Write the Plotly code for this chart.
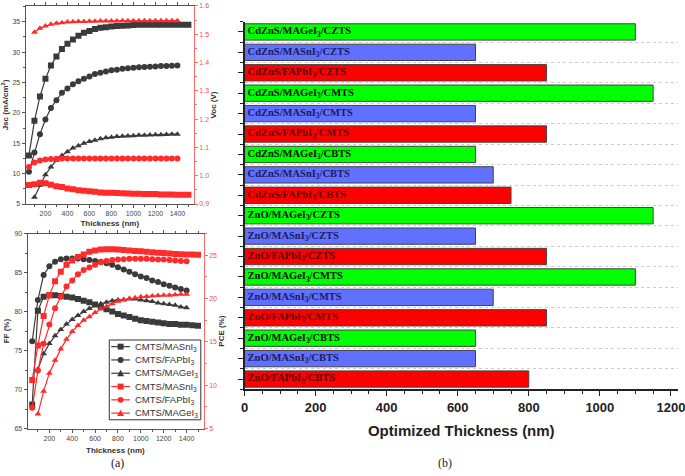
import plotly.graph_objects as go

# ---------------- Panel (a) data ----------------
thk_sq = [50, 100, 150, 200, 250, 300, 350, 400, 450, 500, 550, 600, 650, 700, 750,
          800, 850, 900, 950, 1000, 1050, 1100, 1150, 1200, 1250, 1300, 1350, 1400, 1450, 1500]
thk_ci = [50, 100, 150, 200, 250, 300, 350, 400, 450, 500, 550, 600, 650, 700, 750,
          800, 850, 900, 950, 1000, 1050, 1100, 1150, 1200, 1250, 1300, 1350, 1400]
thk_tr = [100, 150, 200, 250, 300, 350, 400, 450, 500, 550, 600, 650, 700, 750,
          800, 850, 900, 950, 1000, 1050, 1100, 1150, 1200, 1250, 1300, 1350, 1400]

jsc_masni3 = [13.0, 18.7, 22.7, 25.6, 27.8, 29.3, 30.5, 31.4, 32.1, 32.7, 33.2, 33.5, 33.8, 34.0, 34.1,
              34.2, 34.3, 34.35, 34.4, 34.45, 34.5, 34.5, 34.5, 34.5, 34.5, 34.5, 34.5, 34.5, 34.5, 34.5]
jsc_fapbi3 = [10.3, 13.5, 16.5, 18.9, 20.8, 22.1, 23.3, 24.0, 24.7, 25.2, 25.6, 26.0, 26.4, 26.6,
              26.8, 27.0, 27.1, 27.25, 27.35, 27.45, 27.5, 27.55, 27.6, 27.65, 27.7, 27.7, 27.75, 27.8]
jsc_magei3 = [6.1, 8.1, 9.8, 11.1, 12.2, 13.0, 13.6, 14.2, 14.6, 15.0, 15.3, 15.5, 15.75, 15.9,
              16.0, 16.1, 16.15, 16.2, 16.25, 16.3, 16.3, 16.35, 16.4, 16.4, 16.45, 16.5, 16.5]

voc_masni3 = [0.967, 0.970, 0.975, 0.973, 0.968, 0.963, 0.960, 0.955, 0.952, 0.949, 0.947, 0.945,
              0.943, 0.941, 0.940, 0.940, 0.939, 0.938, 0.937, 0.936, 0.936, 0.935, 0.935, 0.935,
              0.934, 0.934, 0.934, 0.933, 0.933, 0.933]
voc_fapbi3 = [1.031, 1.047, 1.054, 1.057, 1.059, 1.060, 1.061, 1.061, 1.061, 1.061, 1.061, 1.061,
              1.061, 1.061, 1.061, 1.061, 1.061, 1.061, 1.061, 1.061, 1.061, 1.061, 1.061, 1.061,
              1.061, 1.061, 1.061, 1.061]
voc_magei3 = [1.507, 1.521, 1.529, 1.535, 1.539, 1.541, 1.543, 1.544, 1.545, 1.545, 1.546, 1.546,
              1.547, 1.547, 1.547, 1.547, 1.548, 1.548, 1.548, 1.548, 1.548, 1.548, 1.548, 1.548,
              1.548, 1.548, 1.548]

ff_masni3 = [68.1, 80.1, 81.9, 82.1, 82.1, 82.0, 81.9, 81.8, 81.6, 81.4, 81.2, 80.9, 80.6, 80.3, 80.0,
             79.7, 79.5, 79.3, 79.1, 78.9, 78.8, 78.7, 78.6, 78.5, 78.4, 78.4, 78.3, 78.3, 78.25, 78.2]
ff_fapbi3 = [76.2, 81.5, 84.7, 85.8, 86.4, 86.7, 86.8, 86.8, 86.8, 86.7, 86.6, 86.5, 86.4, 86.2,
             86.0, 85.7, 85.4, 85.1, 84.8, 84.5, 84.3, 84.0, 83.8, 83.5, 83.3, 83.1, 82.9, 82.7]
ff_magei3 = [72.6, 74.6, 75.9, 76.9, 77.7, 78.4, 79.0, 79.5, 80.0, 80.4, 80.8, 81.0, 81.2, 81.4,
             81.5, 81.5, 81.6, 81.6, 81.5, 81.4, 81.3, 81.1, 81.0, 80.9, 80.8, 80.6, 80.5]

pce_masni3 = [10.6, 14.6, 18.0, 20.4, 22.0, 23.1, 23.9, 24.4, 24.8, 25.1, 25.4, 25.55, 25.65, 25.7,
              25.7, 25.65, 25.6, 25.55, 25.5, 25.45, 25.4, 25.35, 25.3, 25.25, 25.2, 25.15, 25.12,
              25.1, 25.08, 25.07]
pce_fapbi3 = [7.4, 11.7, 14.8, 17.0, 18.9, 20.2, 21.4, 22.1, 22.8, 23.3, 23.6, 23.9, 24.2, 24.35,
              24.45, 24.5, 24.55, 24.6, 24.6, 24.6, 24.6, 24.55, 24.5, 24.5, 24.45, 24.4, 24.35, 24.3]
pce_magei3 = [6.7, 9.3, 11.4, 12.9, 14.2, 15.3, 16.2, 16.9, 17.5, 17.9, 18.4, 18.8, 19.1, 19.4,
              19.7, 19.9, 20.0, 20.1, 20.2, 20.25, 20.3, 20.35, 20.4, 20.4, 20.45, 20.5, 20.5]

legend_names = ["CMTS/MASnI<sub>3</sub>", "CMTS/FAPbI<sub>3</sub>", "CMTS/MAGeI<sub>3</sub>"]

# ---------------- Panel (b) data ----------------
devices = [
    "CdZnS/MAGeI<sub>3</sub>/CZTS", "CdZnS/MASnI<sub>3</sub>/CZTS", "CdZnS/FAPbI<sub>3</sub>/CZTS",
    "CdZnS/MAGeI<sub>3</sub>/CMTS", "CdZnS/MASnI<sub>3</sub>/CMTS", "CdZnS/FAPbI<sub>3</sub>/CMTS",
    "CdZnS/MAGeI<sub>3</sub>/CBTS", "CdZnS/MASnI<sub>3</sub>/CBTS", "CdZnS/FAPbI<sub>3</sub>/CBTS",
    "ZnO/MAGeI<sub>3</sub>/CZTS", "ZnO/MASnI<sub>3</sub>/CZTS", "ZnO/FAPbI<sub>3</sub>/CZTS",
    "ZnO/MAGeI<sub>3</sub>/CMTS", "ZnO/MASnI<sub>3</sub>/CMTS", "ZnO/FAPbI<sub>3</sub>/CMTS",
    "ZnO/MAGeI<sub>3</sub>/CBTS", "ZnO/MASnI<sub>3</sub>/CBTS", "ZnO/FAPbI<sub>3</sub>/CBTS",
]
opt_thickness = [1100, 650, 850, 1150, 650, 850, 650, 700, 750,
                 1150, 650, 850, 1100, 700, 850, 650, 650, 800]
absorber = ["MAGeI3", "MASnI3", "FAPbI3"] * 6

fill_col = {"MAGeI3": "#00ff00", "MASnI3": "#6070ff", "FAPbI3": "#ff0000"}
text_col = {"MAGeI3": "#0a0a0a", "MASnI3": "#1c1c58", "FAPbI3": "#5a0000"}

BLK = "#3a3a3a"
RED = "#ff2a2a"
SYM = ["square", "circle", "triangle-up"]
MS = 6

fig = go.Figure()

# top panel: Jsc (left) and Voc (right)
for xs, ys, s in [(thk_sq, jsc_masni3, SYM[0]), (thk_ci, jsc_fapbi3, SYM[1]), (thk_tr, jsc_magei3, SYM[2])]:
    fig.add_trace(go.Scatter(x=xs, y=ys, mode="lines+markers", xaxis="x", yaxis="y",
                             line=dict(color=BLK, width=1.2), marker=dict(symbol=s, size=MS, color=BLK),
                             showlegend=False))
for xs, ys, s in [(thk_sq, voc_masni3, SYM[0]), (thk_ci, voc_fapbi3, SYM[1]), (thk_tr, voc_magei3, SYM[2])]:
    fig.add_trace(go.Scatter(x=xs, y=ys, mode="lines+markers", xaxis="x", yaxis="y2",
                             line=dict(color=RED, width=1.2), marker=dict(symbol=s, size=MS, color=RED),
                             showlegend=False))

# bottom panel: FF (left) and PCE (right)
for xs, ys, s, nm in [(thk_sq, ff_masni3, SYM[0], legend_names[0]), (thk_ci, ff_fapbi3, SYM[1], legend_names[1]),
                      (thk_tr, ff_magei3, SYM[2], legend_names[2])]:
    fig.add_trace(go.Scatter(x=xs, y=ys, mode="lines+markers", xaxis="x2", yaxis="y3", name=nm,
                             line=dict(color=BLK, width=1.2), marker=dict(symbol=s, size=MS, color=BLK),
                             showlegend=False))
for xs, ys, s, nm in [(thk_sq, pce_masni3, SYM[0], legend_names[0]), (thk_ci, pce_fapbi3, SYM[1], legend_names[1]),
                      (thk_tr, pce_magei3, SYM[2], legend_names[2])]:
    fig.add_trace(go.Scatter(x=xs, y=ys, mode="lines+markers", xaxis="x2", yaxis="y4", name=nm,
                             line=dict(color=RED, width=1.2), marker=dict(symbol=s, size=MS, color=RED),
                             showlegend=False))

# panel (b): bars
fig.add_trace(go.Bar(
    x=opt_thickness, y=list(range(len(devices))), orientation="h",
    xaxis="x3", yaxis="y5", width=0.8,
    marker=dict(color=[fill_col[a] for a in absorber], line=dict(color="#444444", width=1)),
    text=devices, textposition="inside", insidetextanchor="start", textangle=0,
    constraintext="none",
    textfont=dict(family="Liberation Serif", size=10.5, weight="bold",
                  color=[text_col[a] for a in absorber]),
    showlegend=False,
))

W, H = 685, 476
def px(a, b):
    return [a / W, b / W]
def py(top, bot):
    return [1 - bot / H, 1 - top / H]
def PX(v):
    return v / W
def PY(v):
    return 1 - v / H

small_ax = dict(showline=True, linecolor="#555", linewidth=1, ticks="outside", ticklen=3,
                tickcolor="#555", tickfont=dict(family="Liberation Sans", size=7, color="#444"),
                showgrid=False, zeroline=False)
title_font = dict(family="Liberation Sans", size=8, color="#333")
red_ax = dict(showline=True, linecolor="#ff6a6a", linewidth=1, ticks="outside", ticklen=3,
              tickcolor="#ff6a6a", tickfont=dict(family="Liberation Sans", size=7, color="#ff4a4a"),
              showgrid=False, zeroline=False)

# ---- hand-drawn compact legend box for the FF/PCE panel ----
shapes = []
annotations = []
lx0, lx1, ly0, ly1 = 107, 200, 341, 422
shapes.append(dict(type="rect", xref="paper", yref="paper", x0=PX(lx0), x1=PX(lx1), y0=PY(ly1), y1=PY(ly0),
                   line=dict(color="#333", width=1), fillcolor="white", layer="above"))
legend_entries = [(legend_names[i], BLK, SYM[i]) for i in range(3)] + \
                 [(legend_names[i], RED, SYM[i]) for i in range(3)]
row_h = (ly1 - ly0) / len(legend_entries)
for k, (nm, col, sym) in enumerate(legend_entries):
    cy = ly0 + row_h * (k + 0.5)
    shapes.append(dict(type="line", xref="paper", yref="paper", x0=PX(109), x1=PX(128),
                       y0=PY(cy), y1=PY(cy), line=dict(color=col, width=1.2), layer="above"))
    cx, r = 118.5, 3
    if sym == "square":
        shapes.append(dict(type="rect", xref="paper", yref="paper", x0=PX(cx - r), x1=PX(cx + r),
                           y0=PY(cy + r), y1=PY(cy - r), fillcolor=col, line=dict(width=0), layer="above"))
    elif sym == "circle":
        shapes.append(dict(type="circle", xref="paper", yref="paper", x0=PX(cx - r), x1=PX(cx + r),
                           y0=PY(cy + r), y1=PY(cy - r), fillcolor=col, line=dict(width=0), layer="above"))
    else:
        path = "M %f,%f L %f,%f L %f,%f Z" % (PX(cx - r - 0.5), PY(cy + r), PX(cx + r + 0.5), PY(cy + r),
                                              PX(cx), PY(cy - r - 0.5))
        shapes.append(dict(type="path", xref="paper", yref="paper", path=path, fillcolor=col,
                           line=dict(width=0), layer="above"))
    annotations.append(dict(text=nm, x=PX(131), y=PY(cy), xref="paper", yref="paper", showarrow=False,
                            xanchor="left", yanchor="middle",
                            font=dict(family="Liberation Sans", size=9.5, color="#333")))

annotations += [
    dict(text="<b>Thickness (nm)</b>", x=PX((24 + 203) / 2), y=PY(453), xref="paper", yref="paper",
         showarrow=False, xanchor="center", yanchor="middle", font=title_font),
    dict(text="(a)", x=PX(115), y=PY(466), xref="paper", yref="paper", showarrow=False,
         xanchor="center", yanchor="middle",
         font=dict(family="Liberation Serif", size=12, color="#222")),
    dict(text="(b)", x=PX(448), y=PY(466), xref="paper", yref="paper", showarrow=False,
         xanchor="center", yanchor="middle",
         font=dict(family="Liberation Serif", size=12, color="#222")),
]

fig.update_layout(
    width=W, height=H, margin=dict(l=0, r=0, t=0, b=0),
    plot_bgcolor="white", paper_bgcolor="white", showlegend=False,
    xaxis=dict(domain=px(22, 193), anchor="y", range=[20, 1550], tick0=0, dtick=200,
               minor=dict(dtick=100, ticks="outside", ticklen=2, tickcolor="#555"),
               mirror="ticks", title=dict(text="<b>Thickness (nm)</b>", font=title_font, standoff=3),
               **small_ax),
    yaxis=dict(domain=py(2, 203), anchor="x", range=[5, 37.6], dtick=5,
               minor=dict(dtick=2.5, ticks="outside", ticklen=2, tickcolor="#555"),
               title=dict(text="<b>Jsc (mA/cm<sup>2</sup>)</b>", font=title_font, standoff=3),
               **small_ax),
    yaxis2=dict(overlaying="y", side="right", anchor="x", range=[0.9, 1.6], dtick=0.1,
                tickformat=".1f",
                minor=dict(dtick=0.05, ticks="outside", ticklen=2, tickcolor="#ff6a6a"),
                title=dict(text="<b>Voc (V)</b>", font=title_font, standoff=1), **red_ax),
    xaxis2=dict(domain=px(24, 203), anchor="y3", range=[10, 1550], tick0=0, dtick=200,
                minor=dict(dtick=100, ticks="outside", ticklen=2, tickcolor="#555"),
                mirror="ticks", **small_ax),
    yaxis3=dict(domain=py(233, 431), anchor="x2", range=[65, 90], dtick=5,
                minor=dict(dtick=2.5, ticks="outside", ticklen=2, tickcolor="#555"),
                title=dict(text="<b>FF (%)</b>", font=title_font, standoff=3), **small_ax),
    yaxis4=dict(overlaying="y3", side="right", anchor="x2", range=[5, 27.5], dtick=5,
                minor=dict(dtick=2.5, ticks="outside", ticklen=2, tickcolor="#ff6a6a"),
                title=dict(text="<b>PCE (%)</b>", font=title_font, standoff=1), **red_ax),
    xaxis3=dict(domain=px(244.5, 685), anchor="y5", range=[0, 1220], dtick=200,
                showline=True, linecolor="#222", linewidth=1.5, ticks="outside", ticklen=5,
                tickcolor="#222", showgrid=False, zeroline=False, ticklabeloverflow="allow",
                minor=dict(dtick=50, ticks="outside", ticklen=3, tickcolor="#222"),
                tickfont=dict(family="Liberation Sans", size=13, color="#222", weight="bold"),
                title=dict(text="<b>Optimized Thickness (nm)</b>",
                           font=dict(family="Liberation Sans", size=15, color="#222"), standoff=12)),
    yaxis5=dict(domain=py(18, 391), anchor="x3", range=[17.5, -0.5],
                tickvals=list(range(len(devices))), showticklabels=False,
                showline=True, linecolor="#222", linewidth=1.5, ticks="outside", ticklen=5,
                tickcolor="#222", showgrid=False, zeroline=False,
                minor=dict(tick0=0.5, dtick=1, ticks="outside", ticklen=3, tickcolor="#222",
                           showgrid=True, gridcolor="#cccccc", griddash="dot", gridwidth=1)),
    shapes=shapes,
    annotations=annotations,
)

fig.write_html("out.html", config={"displayModeBar": False},
               post_script="document.body.style.margin='0';document.body.style.padding='0';")
